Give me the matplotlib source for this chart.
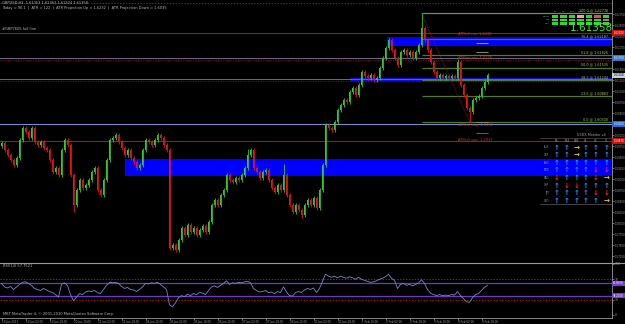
"""MT4 style GBPUSD H1 chart with fib levels, ATR lines and RSI pane."""

import matplotlib

matplotlib.use("Agg")
import matplotlib.pyplot as plt
import matplotlib.transforms as mtransforms
from matplotlib.patches import Rectangle
import numpy as np

# ---- data -------------------------------------------------------------
CLOSES = [
    1.5982, 1.5966, 1.5955, 1.5944, 1.5932, 1.5948, 1.5989, 1.6016, 1.6007, 1.5994,
    1.6016, 1.5985, 1.5978, 1.5985, 1.5971, 1.5966, 1.5944, 1.5917, 1.5926, 1.5910,
    1.5966, 1.5989, 1.5978, 1.5910, 1.5842, 1.5876, 1.5898, 1.5880, 1.5887, 1.5898,
    1.5917, 1.5926, 1.5876, 1.5864, 1.5898, 1.5944, 1.5989, 1.5994, 1.6001, 1.5985,
    1.5971, 1.5955, 1.5966, 1.5948, 1.5939, 1.5926, 1.5932, 1.5966, 1.5989, 1.5985,
    1.5978, 1.5989, 1.6001, 1.5994, 1.5978, 1.5966, 1.5744, 1.5751, 1.5739, 1.5762,
    1.5789, 1.5774, 1.5796, 1.5780, 1.5789, 1.5774, 1.5785, 1.5794, 1.5780, 1.5803,
    1.5842, 1.5853, 1.5842, 1.5864, 1.5876, 1.5910, 1.5898, 1.5894, 1.5903, 1.5898,
    1.5910, 1.5926, 1.5955, 1.5966, 1.5926, 1.5917, 1.5903, 1.5917, 1.5921, 1.5898,
    1.5880, 1.5871, 1.5887, 1.5876, 1.5910, 1.5864, 1.5842, 1.5826, 1.5842, 1.5830,
    1.5819, 1.5842, 1.5853, 1.5842, 1.5858, 1.5835, 1.5876, 1.5932, 1.6023, 1.6016,
    1.6012, 1.6030, 1.6057, 1.6069, 1.6080, 1.6075, 1.6098, 1.6107, 1.6091, 1.6114,
    1.6144, 1.6134, 1.6130, 1.6137, 1.6125, 1.6130, 1.6153, 1.6175, 1.6198, 1.6216,
    1.6194, 1.6175, 1.6159, 1.6189, 1.6194, 1.6182, 1.6189, 1.6175, 1.6189, 1.6205,
    1.6243, 1.6216, 1.6194, 1.6166, 1.6144, 1.6130, 1.6137, 1.6130, 1.6134, 1.6130,
    1.6134, 1.6130, 1.6166, 1.6114, 1.6091, 1.6062, 1.6053, 1.6080, 1.6085, 1.6089,
    1.6107, 1.6121, 1.61358,
]
FIRST_OPEN = 1.5975
SPIKE_HIGHS = {140: 1.6277, 152: 1.6172, 94: 1.5934, 82: 1.5968}
SPIKE_LOWS = {156: 1.6030, 24: 1.5826, 58: 1.5735, 100: 1.5812}

RSI = [
    62, 55, 53, 56, 50, 55, 60, 64, 65, 62,
    58, 52, 50, 48, 52, 49, 46, 44, 40, 35,
    60, 63, 58, 40, 28, 35, 42, 40, 45, 47,
    46, 48, 44, 42, 50, 58, 64, 63, 64, 62,
    56, 52, 54, 50, 49, 46, 50, 55, 62, 61,
    63, 62, 64, 60, 55, 50, 20, 16, 24, 34,
    38, 36, 41, 38, 42, 40, 44, 43, 40, 48,
    55, 57, 54, 58, 62, 67, 60, 63, 62, 64,
    63, 65, 66, 63, 52, 48, 45, 46, 48, 44,
    45, 42, 46, 44, 55, 45, 38, 37, 44, 46,
    44, 49, 52, 50, 53, 44, 52, 66, 80, 76,
    74, 76, 73, 76, 74, 72, 75, 73, 70, 74,
    70, 68, 66, 64, 65, 67, 70, 72, 75, 80,
    72, 68, 52, 60, 62, 58, 60, 57, 60, 63,
    69, 62, 50, 43, 40, 38, 40, 38, 39, 38,
    40, 39, 46, 38, 32, 26, 25, 34, 40, 42,
    48, 54, 58,
]
RSI_LAST = "57.7521"

TIME_LABELS = [
    "18 Jan 2011", "19 Jan 02:00", "19 Jan 18:00", "20 Jan 10:00", "21 Jan 02:00",
    "21 Jan 18:00", "24 Jan 10:00", "25 Jan 02:00", "25 Jan 18:00", "26 Jan 10:00",
    "27 Jan 02:00", "27 Jan 18:00", "28 Jan 10:00", "31 Jan 02:00", "31 Jan 18:00",
    "1 Feb 10:00", "2 Feb 02:00", "2 Feb 18:00", "3 Feb 10:00", "4 Feb 02:00",
    "4 Feb 18:00",
]
BARS_PER_LABEL = 8

FIB_HIGH = 1.62770
FIB_LOW = 1.60300
FIB_HIGH_BAR = 140
FIB_LOW_BAR = 156
FIB_RATIOS = [100.0, 76.4, 61.8, 50.0, 38.2, 23.6, 0.0]

RED_LEVELS = [1.6232, 1.5987]
GRAY_LEVELS = [1.6175, 1.6128]
STEEL_LEVELS = [1.6026]
TOP_DOTTED = 1.6300
BAND_HIGH = (1.6203, 1.6223, 128.5)   # lower, upper, first bar
BAND_LOW = (1.5907, 1.5946, 41.0)
BLUE_LINE = (1.6128, 116.0)

ATR_NOTES = [
    ("ATR(d) res: 1.6232", 1.6226),
    ("ATR(w) res: 1.6176", 1.6170),
    ("ATR(w) sup: 1.6032", 1.6019),
    ("ATR(d) sup: 1.5937", 1.5985),
]

RSI_LEVELS_RED = [70, 30]
RSI_LEVELS_PURPLE = [61.8, 38.2]

SIGNAL_COLS = ["M1", "M5", "M15", "M30", "H1", "H4", "D1"]
SIGNAL_ROWS = ["MACD", "STR", "EMA"]
SIGNAL_STATE = [
    "gggpgrg",
    "ggggggo",
    "ggggggg",
]

MON_COLS = ["M5", "M15", "M30", "H1", "H4", "D1"]
MON_ROWS = ["EUR", "GBP", "AUD", "NZD", "CAD", "CHF", "JPY", "USD"]
MON_STATE = [
    "uuruuu",
    "uuruuu",
    "uuuuuu",
    "uuuudd",
    "duuudr",
    "udduuu",
    "uuuudd",
    "uuuuur",
]

# ---- figure ---------------------------------------------------------------
BG = "black"
GRID_TXT = "#b8b8b8"
UP = "#2ecc2e"
DOWN = "#e81414"

W, H = 625, 324
fig = plt.figure(figsize=(W / 100, H / 100), dpi=100, facecolor=BG)
plt.rcParams["font.family"] = "DejaVu Sans"

RIGHT = 612
ax = fig.add_axes([0, (H - 262) / H, RIGHT / W, 262 / H], facecolor=BG)
ax_rsi = fig.add_axes([0, (H - 318) / H, RIGHT / W, 56 / H], facecolor=BG)

n = len(CLOSES)
idx = np.arange(n)
closes = np.array(CLOSES)
opens = np.concatenate([[FIRST_OPEN], closes[:-1]])
top = np.maximum(opens, closes)
bot = np.minimum(opens, closes)
highs = top + 0.0005
lows = bot - 0.0005
for k, v in SPIKE_HIGHS.items():
    highs[k] = v
for k, v in SPIKE_LOWS.items():
    lows[k] = v
colors = [UP if c >= o else DOWN for o, c in zip(opens, closes)]

xlim = (-0.5, (RIGHT - 1.5) / 3)
ax.set_xlim(*xlim)
ax.set_ylim(1.57123, 1.63070)

# horizontal levels
ax.axhline(TOP_DOTTED, color="#a01010", lw=0.7, ls=(0, (1.5, 1.5)))
for p in RED_LEVELS:
    ax.axhline(p, color="#a01818", lw=0.8)
for p in GRAY_LEVELS:
    ax.axhline(p, color="#6a6a8a", lw=0.7)
    ax.axhline(p - 0.00045, color="#901010", lw=0.6, ls=(0, (1.5, 1.5)))
for p in STEEL_LEVELS:
    ax.axhline(p, color="#7d8ccc", lw=0.8)
for lo, hi, start in (BAND_HIGH, BAND_LOW):
    ax.add_patch(Rectangle((start, lo), xlim[1] - start, hi - lo,
                           facecolor="#0000ff", edgecolor="none", zorder=1))
ax.hlines(BLUE_LINE[0], BLUE_LINE[1], xlim[1], color="#1010ff", lw=2.0, zorder=1)

# fibonacci
fib_prices = [FIB_LOW + r / 100 * (FIB_HIGH - FIB_LOW) for r in FIB_RATIOS]
blend = mtransforms.blended_transform_factory(ax.transAxes, ax.transData)
for r, p in zip(FIB_RATIOS, fib_prices):
    col = "#7a8a5a" if r == 100.0 else "#4f7a2a"
    ax.hlines(p, FIB_HIGH_BAR, xlim[1], color=col, lw=0.9, zorder=2)
    ax.text(0.993, p + 0.0002, f"{r:.1f} @ {p:.5f}", transform=blend, ha="right",
            va="bottom", fontsize=2.4, color="#a8c850", zorder=6)
ax.plot([FIB_HIGH_BAR, FIB_LOW_BAR], [FIB_HIGH, FIB_LOW], color="#a01818",
        lw=0.6, ls=(0, (1.5, 1.5)), zorder=2)

# candles
ax.vlines(idx, lows, highs, colors=colors, lw=0.6, zorder=3)
ax.bar(idx, np.maximum(top - bot, 0.00012), bottom=bot, width=0.62,
       color=colors, linewidth=0, zorder=4)

# ATR notes
for txt, p in ATR_NOTES:
    ax.text(152, p, txt, fontsize=2.6, color="#b03a3a", va="bottom", zorder=6)
ax.hlines([1.6210, 1.6190, 1.6030, 1.6006], 158, 162,
          colors=["#9090ff", "#7a8a5a", "#7a8a5a", "#3050ff"], lw=0.8, zorder=6)

# right price axis
ax.yaxis.tick_right()
ax.set_yticks(np.arange(1.5725, 1.6300, 0.0025))
ax.yaxis.set_major_formatter(plt.FuncFormatter(lambda v, _: f"{v:.5f}"))
ax.tick_params(axis="y", colors="#9a9a9a", labelsize=1.9, length=1.2, width=0.5, pad=0.5)
ax.set_xticks([])
for s in ("left", "top", "bottom"):
    ax.spines[s].set_visible(False)
ax.spines["right"].set_color("#9a9a9a")
ax.spines["right"].set_linewidth(0.6)


def price_box(p, text, face, fg="white"):
    ax.text(1.002, p, text, transform=blend, ha="left", va="center", fontsize=1.9,
            color=fg, clip_on=False, zorder=8,
            bbox=dict(boxstyle="square,pad=0.3", facecolor=face, edgecolor="none"))


price_box(RED_LEVELS[0], f"{RED_LEVELS[0]:.5f}", "#c81010")
price_box(GRAY_LEVELS[0], f"{GRAY_LEVELS[0]:.5f}", "#3a78c8")
price_box(CLOSES[-1], f"{CLOSES[-1]:.5f}", "#c8d0dc", fg="black")
price_box(STEEL_LEVELS[0], f"{STEEL_LEVELS[0]:.5f}", "#2a6ad8")
price_box(RED_LEVELS[1], f"{RED_LEVELS[1]:.5f}", "#c81010")

# RSI pane
ax_rsi.set_xlim(*xlim)
ax_rsi.set_ylim(-5.9, 103.9)
for lv in RSI_LEVELS_RED:
    ax_rsi.axhline(lv, color="#b01010", lw=0.7, ls=(0, (1.5, 1.5)))
for lv in RSI_LEVELS_PURPLE:
    ax_rsi.axhline(lv, color="#6a3ac8", lw=0.9)
ax_rsi.plot(idx, RSI, color="#7888c8", lw=0.6)
ax_rsi.yaxis.tick_right()
ax_rsi.set_yticks([0, 30, 70, 100])
ax_rsi.tick_params(axis="y", colors="#9a9a9a", labelsize=2.2, length=1.2, width=0.5, pad=0.5)
ticks = [BARS_PER_LABEL * k for k in range(len(TIME_LABELS))]
ax_rsi.set_xticks(ticks)
ax_rsi.set_xticklabels(TIME_LABELS, ha="left")
ax_rsi.tick_params(axis="x", colors="#9a9a9a", labelsize=2.0, length=1.2, width=0.5, pad=0.4)
for s in ("left", "top"):
    ax_rsi.spines[s].set_visible(False)
for s in ("right", "bottom"):
    ax_rsi.spines[s].set_color("#9a9a9a")
    ax_rsi.spines[s].set_linewidth(0.6)
rblend = mtransforms.blended_transform_factory(ax_rsi.transAxes, ax_rsi.transData)
for lv in RSI_LEVELS_PURPLE:
    ax_rsi.text(1.002, lv, f"{lv:.4f}", transform=rblend, ha="left", va="center",
                fontsize=1.9, color="white", clip_on=False,
                bbox=dict(boxstyle="square,pad=0.3", facecolor="#7a3ad8", edgecolor="none"))

# ---- overlay in pixel coordinates for the text panels ---------------------
ov = fig.add_axes([0, 0, 1, 1])
ov.set_xlim(0, W)
ov.set_ylim(H, 0)
ov.axis("off")
ov.patch.set_visible(False)

ov.plot([0, W], [262.5, 262.5], color="#9a9a9a", lw=0.8)
ov.text(2, 1.5, "GBPUSD,H1  1.61353 1.61363 1.61304 1.61358", fontsize=2.6,
        color=GRID_TXT, va="top")
ov.text(2, 6.5, "Today = 96.1  |  ATR = 122  |  ATR Projection Up = 1.6232  |  "
        "ATR Projection Down = 1.6035", fontsize=2.6, color=GRID_TXT, va="top")
ov.text(2, 31, "#GBP7605 full line", fontsize=2.6, color=GRID_TXT, va="bottom")
ov.text(3, 266, f"RSI(14) {RSI_LAST}", fontsize=2.6, color=GRID_TXT, va="center")
ov.text(3, 313.5, "MBT MetaTrader 4, \u00a9 2001-2010 MetaQuotes Software Corp.",
        fontsize=2.6, color=GRID_TXT, va="center")

# signal matrix top right
state_col = {"g": "#2ed82e", "p": "#f0a0a0", "r": "#e05050", "o": "#e07030"}
col_x = [555, 563.5, 572, 580.5, 589, 597.5, 606]
for j, lab in enumerate(SIGNAL_COLS):
    ov.text(col_x[j], 12, lab, fontsize=1.6, color="#a0a0a0", ha="center")
for i, lab in enumerate(SIGNAL_ROWS):
    y = 15 + i * 3.6
    ov.text(550, y + 1.2, lab, fontsize=1.6, color="#a0a0a0", ha="right", va="center")
    for j, s in enumerate(SIGNAL_STATE[i]):
        ov.add_patch(Rectangle((col_x[j] - 3.3, y), 6.6, 2.6,
                               facecolor=state_col[s], edgecolor="none"))
ov.text(591, 28, f"{CLOSES[-1]:.5f}", fontsize=7.5, color="#3ee83e",
        ha="center", va="center")

# currency monitor
arrow_glyph = {"u": ("\u2191", "#2a8cff"), "d": ("\u2193", "#ff2020"),
               "r": ("\u2192", "#ffd21e")}
mon_x = [557, 567, 576.5, 586, 596, 606.5]
ov.text(606, 135.5, "USDX Monitor v4", fontsize=2.4, color="#a0a0a0", ha="right",
        va="center")
ov.plot([540, RIGHT], [138, 138], color="#505050", lw=0.5)
for j, lab in enumerate(MON_COLS):
    ov.text(mon_x[j], 141.5, lab, fontsize=1.8, color="#a0a0a0", ha="center",
            va="center")
for i, lab in enumerate(MON_ROWS):
    y = 147.5 + i * 7.6
    ov.text(549, y, lab, fontsize=1.8, color="#a0a0a0", ha="right", va="center")
    for j, s in enumerate(MON_STATE[i]):
        g, c = arrow_glyph[s]
        ov.text(mon_x[j], y, g, fontsize=5, color=c, ha="center", va="center",
                fontweight="bold")
ov.plot([540, RIGHT], [204, 204], color="#606060", lw=0.5)

fig.savefig("out.png", dpi=100, facecolor=BG)
